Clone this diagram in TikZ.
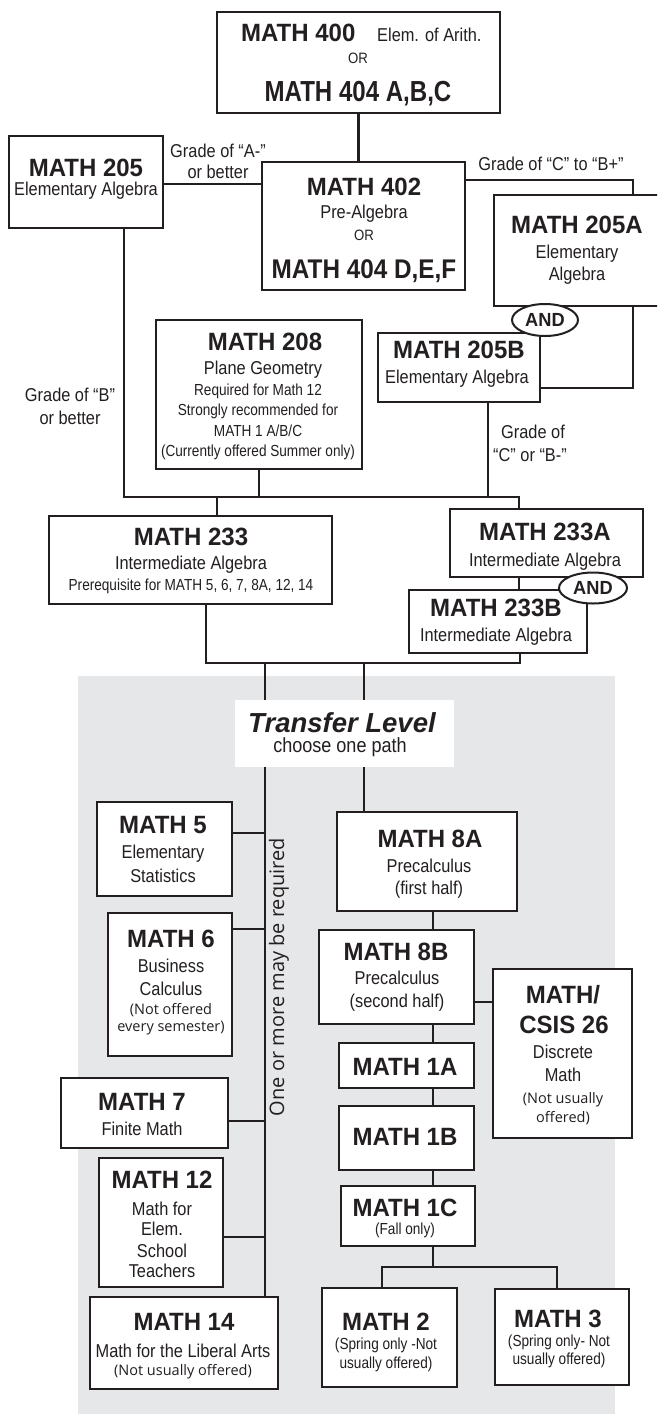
\documentclass[tikz,border=0pt]{standalone}
\usepackage{fontspec}
\setmainfont{Liberation Sans}
\newfontfamily\lightfont{Open Sans}
\newfontfamily\titfont[FakeStretch=0.96]{Liberation Sans}
\newfontfamily\regfont[FakeStretch=0.88]{Liberation Sans}
\newfontfamily\smfont[FakeStretch=0.85]{Liberation Sans}
\newfontfamily\narfont[FakeStretch=0.83]{Liberation Sans}
\newfontfamily\midfont[FakeStretch=0.9]{Liberation Sans}
\usetikzlibrary{shapes.geometric}
\definecolor{ink}{RGB}{35,31,32}
\definecolor{bggray}{RGB}{230,231,232}
\newcommand\ftitle{\titfont\fontsize{25}{25}\selectfont\bfseries}
\newcommand\fbig{\narfont\fontsize{29}{29}\selectfont\bfseries}
\newcommand\fbigb{\midfont\fontsize{27}{27}\selectfont\bfseries}
\newcommand\freg{\regfont\fontsize{18.6}{18.6}\selectfont}
\newcommand\fsmall{\smfont\fontsize{16}{16}\selectfont}
\newcommand\flight{\lightfont\fontsize{14.5}{14.5}\selectfont}
\newcommand\ftor{\regfont\fontsize{15}{15}\selectfont}
\pgfdeclarelayer{bgg}
\pgfdeclarelayer{bgl}
\pgfsetlayers{bgg,bgl,main}
\begin{document}
\begin{tikzpicture}[x=1pt,y=-1pt,
  box/.style={draw=ink,line width=2.4pt,fill=white,inner sep=0,rectangle},
  tx/.style={inner sep=0,anchor=base,text=ink},
  ln/.style={draw=ink,line width=2.4pt},
  lnthin/.style={draw=ink,line width=1.3pt},
  andov/.style={ellipse,draw=ink,line width=2pt,fill=white,inner sep=0,text=ink,font=\titfont\fontsize{19}{19}\selectfont\bfseries}]
\useasboundingbox (0,0) rectangle (657,1414);
\clip (0,0) rectangle (657,1414);
% boxes
\node[box,minimum width=283pt,minimum height=101pt] (b400) at (358.5,62.5) {};
\node[box,minimum width=154pt,minimum height=92pt] (b205) at (86,182) {};
\node[box,minimum width=203pt,minimum height=128pt] (b402) at (363.5,226) {};
\node[box,minimum width=186pt,minimum height=111pt] (b205A) at (587,250.5) {};
\node[box,minimum width=162pt,minimum height=69pt] (b205B) at (459,367.5) {};
\node[box,minimum width=206pt,minimum height=149pt] (b208) at (259,394.5) {};
\node[box,minimum width=283pt,minimum height=88pt] (b233) at (190.5,560) {};
\node[box,minimum width=193pt,minimum height=68pt] (b233A) at (546.5,543) {};
\node[box,minimum width=178pt,minimum height=63pt] (b233B) at (498,621.5) {};
\node[fill=white,inner sep=0,minimum width=219pt,minimum height=67pt] (bTL) at (344.5,733.5) {};
\node[box,minimum width=135pt,minimum height=94pt] (b5) at (164.5,849) {};
\node[box,minimum width=124pt,minimum height=143pt] (b6) at (170,984.5) {};
\node[box,minimum width=167pt,minimum height=70pt] (b7) at (144.5,1113) {};
\node[box,minimum width=124pt,minimum height=129pt] (b12) at (161,1222.5) {};
\node[box,minimum width=188pt,minimum height=92pt] (b14) at (184,1343) {};
\node[box,minimum width=180pt,minimum height=99pt] (b8A) at (427,861.5) {};
\node[box,minimum width=155pt,minimum height=94pt] (b8B) at (396.5,977) {};
\node[box,minimum width=139pt,minimum height=169pt] (bCS) at (562.5,1053.5) {};
\node[box,minimum width=135pt,minimum height=45pt] (b1A) at (406.5,1065.5) {};
\node[box,minimum width=135pt,minimum height=64pt] (b1B) at (406.5,1138) {};
\node[box,minimum width=134pt,minimum height=60pt] (b1C) at (408,1216) {};
\node[box,minimum width=135pt,minimum height=99pt] (b2) at (389.5,1337.5) {};
\node[box,minimum width=134pt,minimum height=96pt] (b3) at (562,1337) {};
% background
\begin{pgfonlayer}{bgg}
\fill[bggray] (78,676) rectangle (615,1414);
\end{pgfonlayer}
% connectors
\coordinate (r1) at (633,180);
\coordinate (r2) at (633,388);
\coordinate (j1) at (124,497);
\coordinate (j2) at (519,497);
\coordinate (j3) at (488,497);
\coordinate (j4) at (217,497);
\coordinate (k1) at (206,663);
\coordinate (k2) at (520,663);
\coordinate (k3) at (265,663);
\coordinate (k4) at (364,663);
\coordinate (m) at (433,0);
\coordinate (s1) at (433,1267);
\coordinate (s2) at (382,1267);
\coordinate (s3) at (557,1267);
\begin{pgfonlayer}{bgl}
\draw[ln] (b400.south) -- (b400.south |- b402.north);
\draw[lnthin] (b205.east |- 0,184) -- (b402.west |- 0,184);
\draw[ln] (b402.east |- r1) -- (r1) -- (r2) -- (b205B.east |- r2);
\draw[ln] (b205.south -| j1) -- (j1) -- (j2) -- (j2 |- b233A.north);
\draw[ln] (b208.south) -- (b208.south |- j1);
\draw[ln] (b205B.south -| j3) -- (j3);
\draw[ln] (j4) -- (j4 |- b233.north);
\draw[ln] (b233A.south -| j2) -- (b233B.north -| j2);
\draw[ln] (b233.south -| k1) -- (k1) -- (k2) -- (k2 |- b233B.south);
\draw[ln] (k3) -- (k3 |- b14.north);
\draw[ln] (k4) -- (k4 |- b8A.north);
\draw[lnthin] (b5.east |- 0,833) -- (k3 |- 0,833);
\draw[ln] (b6.east |- 0,929) -- (k3 |- 0,929);
\draw[ln] (b7.east |- 0,1121) -- (k3 |- 0,1121);
\draw[lnthin] (b12.east |- 0,1237) -- (k3 |- 0,1237);
\draw[ln] (b8A.south -| m) -- (b8B.north -| m);
\draw[ln] (b8B.south -| m) -- (b1A.north -| m);
\draw[ln] (b1A.south -| m) -- (b1B.north -| m);
\draw[ln] (b1B.south -| m) -- (b1C.north -| m);
\draw[ln] (b8B.east |- 0,1002) -- (bCS.west |- 0,1002);
\draw[ln] (b1C.south -| s1) -- (s1);
\draw[ln] (s2 |- b2.north) -- (s2) -- (s3) -- (s3 |- b3.north);
\end{pgfonlayer}
% AND ovals
\node[andov,minimum width=66pt,minimum height=32pt] (and1) at (545,320) {AND};
\node[andov,minimum width=68pt,minimum height=31pt] (and2) at (593,588) {AND};
% texts
\node[tx,anchor=base west,font=\ftitle] (t400a) at (241,41.5) {MATH 400};
\node[tx,anchor=base west,font=\freg] (t400b) at (377,41.5) {Elem. of Arith.};
\node[tx,font=\ftor] (t400c) at (358,63) {OR};
\node[tx,font=\fbig] (t400d) at (358,101) {MATH 404 A,B,C};
\node[tx,font=\ftitle] (t205a) at (86,176) {MATH 205};
\node[tx,font=\freg] (t205b) at (86,195) {Elementary Algebra};
\node[tx,font=\freg] (gA1) at (218,157) {Grade of “A-”};
\node[tx,font=\freg] (gA2) at (218,178) {or better};
\node[tx,font=\ftitle] (t402a) at (364,195) {MATH 402};
\node[tx,font=\freg] (t402b) at (364,218) {Pre-Algebra};
\node[tx,font=\ftor] (t402c) at (364,240) {OR};
\node[tx,font=\fbigb] (t402d) at (364,278) {MATH 404 D,E,F};
\node[tx,font=\freg] (gC1) at (551,170) {Grade of “C” to “B+”};
\node[tx,font=\ftitle] (t205Aa) at (577,233) {MATH 205A};
\node[tx,font=\freg] (t205Ab) at (577,258) {Elementary};
\node[tx,font=\freg] (t205Ac) at (577,280) {Algebra};
\node[tx,font=\ftitle] (t205Ba) at (459,358) {MATH 205B};
\node[tx,font=\freg] (t205Bb) at (457,383) {Elementary Algebra};
\node[tx,font=\ftitle] (t208a) at (265,350) {MATH 208};
\node[tx,font=\freg] (t208b) at (263,374) {Plane Geometry};
\node[tx,font=\fsmall] (t208c) at (258,395) {Required for Math 12};
\node[tx,font=\fsmall] (t208d) at (258,415) {Strongly recommended for};
\node[tx,font=\fsmall] (t208e) at (258,436) {MATH 1 A/B/C};
\node[tx,font=\fsmall] (t208f) at (258,456) {(Currently offered Summer only)};
\node[tx,font=\freg] (gB1) at (70,401) {Grade of “B”};
\node[tx,font=\freg] (gB2) at (70,424) {or better};
\node[tx,font=\freg] (gD1) at (533,438) {Grade of};
\node[tx,font=\freg] (gD2) at (530,461) {“C” or “B-”};
\node[tx,font=\ftitle] (t233a) at (191,545) {MATH 233};
\node[tx,font=\freg] (t233b) at (191,569) {Intermediate Algebra};
\node[tx,font=\fsmall] (t233c) at (191,590) {Prerequisite for MATH 5, 6, 7, 8A, 12, 14};
\node[tx,font=\ftitle] (t233Aa) at (545,540) {MATH 233A};
\node[tx,font=\freg] (t233Ab) at (545,566) {Intermediate Algebra};
\node[tx,font=\ftitle] (t233Ba) at (496,616) {MATH 233B};
\node[tx,font=\freg] (t233Bb) at (496,641) {Intermediate Algebra};
\node[tx,font=\fontsize{27.5}{27.5}\selectfont\bfseries\itshape] (tTLa) at (342,732) {Transfer Level};
\node[tx,font=\regfont\fontsize{20.5}{20.5}\selectfont] (tTLb) at (340,752) {choose one path};
\node[tx,font=\ftitle] (t5a) at (163,833) {MATH 5};
\node[tx,font=\freg] (t5b) at (163,858) {Elementary};
\node[tx,font=\freg] (t5c) at (163,882) {Statistics};
\node[tx,font=\ftitle] (t6a) at (171,947) {MATH 6};
\node[tx,font=\freg] (t6b) at (171,972) {Business};
\node[tx,font=\freg] (t6c) at (171,995) {Calculus};
\node[tx,font=\flight] (t6d) at (171,1014) {(Not offered};
\node[tx,font=\flight] (t6e) at (171,1031) {every semester)};
\node[tx,font=\ftitle] (t7a) at (142,1110) {MATH 7};
\node[tx,font=\freg] (t7b) at (142,1135) {Finite Math};
\node[tx,font=\ftitle] (t12a) at (162,1188) {MATH 12};
\node[tx,font=\freg] (t12b) at (162,1215) {Math for};
\node[tx,font=\freg] (t12c) at (162,1235) {Elem.};
\node[tx,font=\freg] (t12d) at (162,1257) {School};
\node[tx,font=\freg] (t12e) at (162,1277) {Teachers};
\node[tx,font=\ftitle] (t14a) at (184,1330) {MATH 14};
\node[tx,font=\freg] (t14b) at (183,1357) {Math for the Liberal Arts};
\node[tx,font=\flight] (t14c) at (183,1375) {(Not usually offered)};
\node[tx,font=\ftitle] (t8Aa) at (430,847) {MATH 8A};
\node[tx,font=\freg] (t8Ab) at (429,872) {Precalculus};
\node[tx,font=\freg] (t8Ac) at (429,894) {(first half)};
\node[tx,font=\ftitle] (t8Ba) at (396,960) {MATH 8B};
\node[tx,font=\freg] (t8Bb) at (397,984) {Precalculus};
\node[tx,font=\freg] (t8Bc) at (397,1007) {(second half)};
\node[tx,font=\ftitle] (tCSa) at (563,1003) {MATH/};
\node[tx,font=\ftitle] (tCSb) at (564,1033) {CSIS 26};
\node[tx,font=\freg] (tCSc) at (563,1058) {Discrete};
\node[tx,font=\freg] (tCSd) at (563,1081) {Math};
\node[tx,font=\flight] (tCSe) at (563,1103) {(Not usually};
\node[tx,font=\flight] (tCSf) at (563,1122) {offered)};
\node[tx,font=\ftitle] (t1A) at (405,1075) {MATH 1A};
\node[tx,font=\ftitle] (t1B) at (405,1145) {MATH 1B};
\node[tx,font=\ftitle] (t1Ca) at (405,1216) {MATH 1C};
\node[tx,font=\fsmall] (t1Cb) at (405,1234) {(Fall only)};
\node[tx,font=\ftitle] (t2a) at (386,1330) {MATH 2};
\node[tx,font=\fsmall] (t2b) at (386,1349) {(Spring only -Not};
\node[tx,font=\fsmall] (t2c) at (386,1368) {usually offered)};
\node[tx,font=\ftitle] (t3a) at (558,1327) {MATH 3};
\node[tx,font=\fsmall] (t3b) at (559,1346) {(Spring only- Not};
\node[tx,font=\fsmall] (t3c) at (559,1364) {usually offered)};
\node[inner sep=0,rotate=90,text=ink,font=\lightfont\fontsize{20}{20}\selectfont] (vreq) at (279,977) {One or more may be required};
\end{tikzpicture}
\end{document}
